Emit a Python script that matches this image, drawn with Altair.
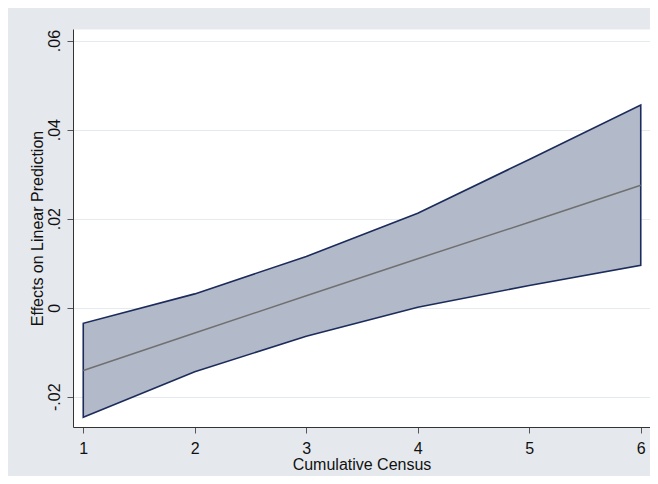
import altair as alt
import pandas as pd

census = [1, 2, 3, 4, 5, 6]
lower = [-0.0246, -0.0144, -0.0064, 0.0001, 0.0050, 0.0095]
center = [-0.0141, -0.0057, 0.0027, 0.0110, 0.0192, 0.0275]
upper = [-0.0035, 0.0031, 0.0115, 0.0212, 0.0333, 0.0455]
y_ticks = [-0.02, 0, 0.02, 0.04, 0.06]

df = pd.DataFrame({"census": census, "lower": lower, "center": center, "upper": upper})

FONT = "Liberation Sans"

x_enc = alt.X(
    "census:Q",
    scale=alt.Scale(domain=[0.908, 6.083], nice=False, zero=False),
    axis=alt.Axis(
        values=census, format="d", title="Cumulative Census", grid=False,
        tickSize=6, labelPadding=20, labelBaseline="alphabetic",
        labelFont=FONT, labelFontSize=16, labelColor="#111111",
        titleFont=FONT, titleFontSize=16, titleFontWeight="normal", titleColor="#111111",
        titleY=42, titleBaseline="alphabetic",
        domainColor="#333333", tickColor="#555555", labelFlush=False,
    ),
)

y_scale = alt.Scale(domain=[-0.0268, 0.0626], nice=False, zero=False)
y_axis = alt.Axis(
    values=y_ticks, title="Effects on Linear Prediction",
    labelExpr="datum.value == 0 ? '0' : (datum.value < 0 ? '-' : '') + '.0' + toString(round(abs(datum.value) * 100))",
    grid=True, gridColor="#e4eaee", gridWidth=1,
    tickSize=6, labelPadding=8, labelAngle=270, labelAlign="center", labelBaseline="alphabetic",
    labelFont=FONT, labelFontSize=16, labelColor="#111111",
    titleFont=FONT, titleFontSize=16, titleFontWeight="normal", titleColor="#111111",
    titleAngle=270, titleAlign="center", titleBaseline="alphabetic", titleX=-31, titleY=199,
    domainColor="#333333", tickColor="#555555", labelFlush=False,
)

band = alt.Chart(df).mark_area(
    fill="#b2b9c8", stroke="#1b2b5b", strokeWidth=1.6, opacity=1
).encode(
    x=x_enc,
    y=alt.Y("lower:Q", scale=y_scale, axis=y_axis),
    y2="upper:Q",
)

line = alt.Chart(df).mark_line(color="#707070", strokeWidth=1.5).encode(
    x=alt.X("census:Q"),
    y=alt.Y("center:Q"),
)

chart = alt.layer(band, line).properties(
    width=577, height=398,
    autosize=alt.AutoSizeParams(type="none"),
    padding={"left": 65, "top": 21, "right": 0, "bottom": 49},
    background="#e5e9ee",
).configure_view(fill="white", stroke="transparent")

chart.save("out.html", embed_options={"renderer": "svg", "actions": False})
